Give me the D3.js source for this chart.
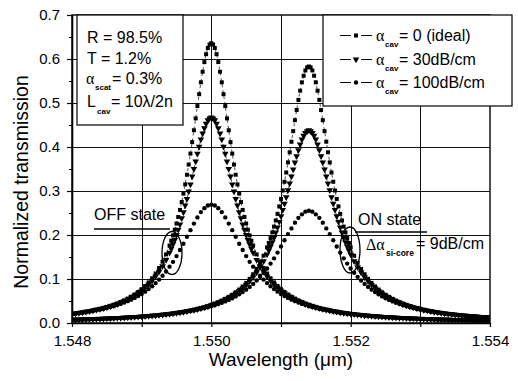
<!DOCTYPE html>
<html><head><meta charset="utf-8">
<script src="https://cdn.jsdelivr.net/npm/d3@7"></script>
<style>
body{margin:0;background:#fff}
svg{display:block;font-family:"Liberation Sans",Arial,sans-serif}
</style>
</head><body>
<svg id="c" width="518" height="381"></svg>
<script>
// ---------- data ----------
// resonance wavelengths (µm): OFF state and ON state
const offCentre = 1.5500;
const onCentre = 1.5514;
const sampleStep = 0.000025; // µm
// sample offsets (in sample steps) around each resonance
const offIdx = [...d3.range(-80, -25, 2), ...d3.range(-24, 25), ...d3.range(26, 161, 2)];
const onIdx = [...d3.range(-136, -25, 2), ...d3.range(-24, 25), ...d3.range(26, 105, 2)];
const offIdxCoarse = d3.range(-80, 161, 2);
const onIdxCoarse = d3.range(-136, 105, 2);
const wlOff = offIdx.map(j => offCentre + j * sampleStep);
const wlOn = onIdx.map(j => onCentre + j * sampleStep);
const wlOffCoarse = offIdxCoarse.map(j => offCentre + j * sampleStep);
const wlOnCoarse = onIdxCoarse.map(j => onCentre + j * sampleStep);

const xTicks = [1.548, 1.549, 1.550, 1.551, 1.552, 1.553, 1.554];
const xLabels = [1.548, 1.550, 1.552, 1.554];
const yTicks = [0.0, 0.1, 0.2, 0.3, 0.4, 0.5, 0.6, 0.7];
const yMinor = [0.05, 0.15, 0.25, 0.35, 0.45, 0.55, 0.65];

// alpha_cav = 0 (ideal)
const tOffIdeal = [0.0211,0.0222,0.0233,0.0246,0.0259,0.0273,0.0289,0.0306,0.0324,0.0344,0.0366,0.0391,0.0417,0.0446,0.0479,0.0515,0.0555,0.0599,0.0649,0.0706,0.0769,0.0841,0.0923,0.1017,0.1125,0.125,0.1394,0.156,
0.176,0.187,0.199,0.212,0.226,0.241,0.257,0.275,0.294,0.315,0.337,0.360,0.385,0.411,0.438,0.465,0.493,0.520,0.547,0.571,0.593,0.611,0.625,0.633,
0.636,
0.633,0.625,0.611,0.593,0.571,0.547,0.520,0.493,0.465,0.438,0.411,0.385,0.360,0.337,0.315,0.294,0.275,0.257,0.241,0.226,0.212,0.199,0.187,0.176,
0.156,0.1394,0.125,0.1125,0.1017,0.0923,0.0841,0.0769,0.0706,0.0649,0.0599,0.0555,0.0515,0.0479,0.0446,0.0417,0.0391,0.0366,0.0344,0.0324,0.0306,0.0289,0.0273,0.0259,0.0246,0.0233,0.0222,0.0211,
0.0202,0.0192,0.0184,0.0176,0.0168,0.0161,0.0155,0.0148,0.0143,0.0137,0.0132,0.0127,0.0122,0.0118,0.0114,0.0110,0.0106,0.0102,0.0099,0.0096,0.0093,0.0090,0.0087,0.0084,0.0082,0.0079,0.0077,0.0075,0.0073,0.0071,0.0069,0.0067,0.0065,0.0063,0.0062,0.0060,0.0058,0.0057,0.0056,0.0054];
const tOnIdeal = [0.0075,0.0077,0.0079,0.0082,0.0084,0.0087,0.0090,0.0093,0.0096,0.0099,0.0102,0.0106,0.0110,0.0113,0.0118,0.0122,0.0127,0.0132,0.0137,0.0142,0.0148,0.0154,0.0161,0.0168,0.0175,0.0183,0.0192,0.0201,0.0211,0.0221,0.0233,0.0245,0.0258,0.0272,0.0288,0.0305,0.0323,0.0343,0.0365,0.0388,0.0415,0.0444,0.0476,0.0511,0.0550,0.0594,0.0643,0.0699,0.0761,0.0831,0.0911,0.1003,0.1108,0.1228,0.1367,0.153,
0.172,0.182,0.193,0.206,0.219,0.233,0.248,0.265,0.282,0.301,0.321,0.342,0.365,0.388,0.412,0.436,0.461,0.484,0.507,0.528,0.547,0.562,0.574,0.581,
0.583,
0.581,0.574,0.562,0.547,0.528,0.507,0.484,0.461,0.436,0.412,0.388,0.365,0.342,0.321,0.301,0.282,0.265,0.248,0.233,0.219,0.206,0.193,0.182,0.172,
0.153,0.1367,0.1228,0.1108,0.1003,0.0911,0.0831,0.0761,0.0699,0.0643,0.0594,0.0550,0.0511,0.0476,0.0444,0.0415,0.0388,0.0365,0.0343,0.0323,0.0305,0.0288,0.0272,0.0258,0.0245,0.0233,0.0221,0.0211,0.0201,0.0192,0.0183,0.0175,0.0168,0.0161,0.0154,0.0148,0.0142,0.0137,0.0132,0.0127];

// alpha_cav = 30 dB/cm
const tOff30 = [0.0209,0.0219,0.0230,0.0242,0.0255,0.0269,0.0284,0.0301,0.0318,0.0338,0.0359,0.0382,0.0407,0.0435,0.0466,0.0500,0.0538,0.0579,0.0626,0.0678,0.0737,0.0803,0.0877,0.0962,0.1057,0.1167,0.1292,0.1434,
0.160,0.169,0.179,0.189,0.200,0.212,0.224,0.238,0.252,0.267,0.282,0.299,0.315,0.333,0.350,0.367,0.385,0.401,0.417,0.431,0.443,0.453,0.461,0.465,
0.467,
0.465,0.461,0.453,0.443,0.431,0.417,0.401,0.385,0.367,0.350,0.333,0.315,0.299,0.282,0.267,0.252,0.238,0.224,0.212,0.200,0.189,0.179,0.169,0.160,
0.1434,0.1292,0.1167,0.1057,0.0962,0.0877,0.0803,0.0737,0.0678,0.0626,0.0579,0.0538,0.0500,0.0466,0.0435,0.0407,0.0382,0.0359,0.0338,0.0318,0.0301,0.0284,0.0269,0.0255,0.0242,0.0230,0.0219,0.0209,
0.0199,0.0190,0.0182,0.0174,0.0167,0.0160,0.0153,0.0147,0.0141,0.0136,0.0131,0.0126,0.0121,0.0117,0.0113,0.0109,0.0105,0.0102,0.0098,0.0095,0.0092,0.0089,0.0087,0.0084,0.0081,0.0079,0.0077,0.0074,0.0072,0.0070,0.0068,0.0067,0.0065,0.0063,0.0061,0.0060,0.0058,0.0057,0.0055,0.0054];
const tOn30 = [0.0074,0.0077,0.0079,0.0081,0.0084,0.0086,0.0089,0.0092,0.0095,0.0098,0.0102,0.0105,0.0109,0.0113,0.0117,0.0121,0.0126,0.0131,0.0136,0.0141,0.0147,0.0153,0.0159,0.0166,0.0174,0.0181,0.0190,0.0199,0.0208,0.0219,0.0230,0.0242,0.0254,0.0268,0.0283,0.0299,0.0317,0.0336,0.0357,0.0380,0.0405,0.0433,0.0463,0.0496,0.0534,0.0575,0.0621,0.0672,0.0729,0.0794,0.0866,0.0949,0.1042,0.1148,0.1268,0.1406,
0.156,0.165,0.174,0.184,0.194,0.206,0.217,0.230,0.243,0.257,0.271,0.286,0.302,0.317,0.333,0.349,0.365,0.379,0.393,0.406,0.417,0.426,0.432,0.436,
0.438,
0.436,0.432,0.426,0.417,0.406,0.393,0.379,0.365,0.349,0.333,0.317,0.302,0.286,0.271,0.257,0.243,0.230,0.217,0.206,0.194,0.184,0.174,0.165,0.156,
0.1406,0.1268,0.1148,0.1042,0.0949,0.0866,0.0794,0.0729,0.0672,0.0621,0.0575,0.0534,0.0496,0.0463,0.0433,0.0405,0.0380,0.0357,0.0336,0.0317,0.0299,0.0283,0.0268,0.0254,0.0242,0.0230,0.0219,0.0208,0.0199,0.0190,0.0181,0.0174,0.0166,0.0159,0.0153,0.0147,0.0141,0.0136,0.0131,0.0126];

// alpha_cav = 100 dB/cm (coarser sampling, as in the picture)
const tOff100 = [0.0202,0.0212,0.0222,0.0233,0.0245,0.0258,0.0272,0.0287,0.0303,0.0321,0.0340,0.0360,0.0383,0.0407,0.0434,0.0464,0.0496,0.0531,0.0570,0.0613,0.0660,0.0713,0.0771,0.0835,0.0907,0.0986,0.1074,0.1171,
0.128,0.139,0.152,0.166,0.180,0.196,0.211,0.226,0.240,0.252,0.261,0.267,
0.269,
0.267,0.261,0.252,0.240,0.226,0.211,0.196,0.180,0.166,0.152,0.139,0.128,
0.1171,0.1074,0.0986,0.0907,0.0835,0.0771,0.0713,0.0660,0.0613,0.0570,0.0531,0.0496,0.0464,0.0434,0.0407,0.0383,0.0360,0.0340,0.0321,0.0303,0.0287,0.0272,0.0258,0.0245,0.0233,0.0222,0.0212,0.0202,
0.0193,0.0185,0.0177,0.0169,0.0162,0.0156,0.0150,0.0144,0.0138,0.0133,0.0128,0.0124,0.0119,0.0115,0.0111,0.0107,0.0104,0.0100,0.0097,0.0094,0.0091,0.0088,0.0085,0.0083,0.0080,0.0078,0.0076,0.0074,0.0072,0.0070,0.0068,0.0066,0.0064,0.0062,0.0061,0.0059,0.0058,0.0056,0.0055,0.0054];
const tOn100 = [0.0074,0.0076,0.0078,0.0080,0.0083,0.0085,0.0088,0.0091,0.0094,0.0097,0.0100,0.0103,0.0107,0.0111,0.0115,0.0119,0.0123,0.0128,0.0133,0.0138,0.0143,0.0149,0.0155,0.0162,0.0169,0.0176,0.0184,0.0192,0.0201,0.0211,0.0221,0.0232,0.0244,0.0257,0.0271,0.0285,0.0301,0.0319,0.0337,0.0358,0.0380,0.0404,0.0430,0.0459,0.0491,0.0525,0.0563,0.0605,0.0651,0.0702,0.0758,0.0821,0.0889,0.0966,0.1049,0.1142,
0.124,0.135,0.147,0.160,0.174,0.188,0.202,0.215,0.228,0.239,0.247,0.253,
0.255,
0.253,0.247,0.239,0.228,0.215,0.202,0.188,0.174,0.160,0.147,0.135,0.124,
0.1142,0.1049,0.0966,0.0889,0.0821,0.0758,0.0702,0.0651,0.0605,0.0563,0.0525,0.0491,0.0459,0.0430,0.0404,0.0380,0.0358,0.0337,0.0319,0.0301,0.0285,0.0271,0.0257,0.0244,0.0232,0.0221,0.0211,0.0201,0.0192,0.0184,0.0176,0.0169,0.0162,0.0155,0.0149,0.0143,0.0138,0.0133,0.0128,0.0123];

const seriesNames = ["0 (ideal)", "30dB/cm", "100dB/cm"];

// ---------- drawing ----------
const svg = d3.select("#c");
const L = 72, R = 490, T = 15, B = 323;
const x = d3.scaleLinear().domain([1.548, 1.554]).range([L, R]);
const y = d3.scaleLinear().domain([0, 0.7]).range([B, T]);

svg.append("rect").attr("width", 518).attr("height", 381).attr("fill", "#fff");

// grid
const grid = svg.append("g").attr("stroke", "#111").attr("stroke-width", 1);
grid.selectAll(".gx").data(xTicks.slice(1, -1)).join("line")
  .attr("x1", d => Math.round(x(d)) + 0.5).attr("x2", d => Math.round(x(d)) + 0.5)
  .attr("y1", T).attr("y2", B);
grid.selectAll(".gy").data(yTicks.slice(1, -1)).join("line")
  .attr("y1", d => Math.round(y(d)) + 0.5).attr("y2", d => Math.round(y(d)) + 0.5)
  .attr("x1", L).attr("x2", R);

// axes
const fmtX = d3.format(".3f");
const xAxis = svg.append("g").attr("transform", `translate(0,${B})`)
  .call(d3.axisBottom(x).tickValues(xTicks).tickSize(4).tickSizeOuter(0).tickPadding(8)
    .tickFormat(d => xLabels.some(v => Math.abs(v - d) < 1e-9) ? fmtX(d) : ""));
const yAxis = svg.append("g").attr("transform", `translate(${L},0)`)
  .call(d3.axisLeft(y).tickValues(yTicks).tickSize(5).tickSizeOuter(0).tickPadding(7).tickFormat(d3.format(".1f")));
svg.append("g").attr("transform", `translate(${L},0)`)
  .call(d3.axisLeft(y).tickValues(yMinor).tickSize(3).tickFormat(""))
  .call(g => g.select(".domain").remove());
[xAxis, yAxis].forEach(g => {
  g.attr("font-family", "'Liberation Sans', Arial, sans-serif").attr("font-size", 15);
  g.selectAll("text").attr("fill", "#000");
  g.selectAll("line").attr("stroke", "#000").attr("stroke-width", 1.2);
  g.select(".domain").attr("stroke", "#000").attr("stroke-width", 1.6);
});

// frame
svg.append("rect").attr("x", L).attr("y", T).attr("width", R - L).attr("height", B - T)
  .attr("fill", "none").attr("stroke", "#000").attr("stroke-width", 1.4);

// curves
svg.append("clipPath").attr("id", "clip").append("rect")
  .attr("x", L).attr("y", T - 3).attr("width", R - L).attr("height", B - T + 3);

const symbols = [
  d3.symbol().type(d3.symbolSquare).size(16),
  d3.symbol().type(d3.symbolTriangle).size(19),
  d3.symbol().type(d3.symbolCircle).size(15)
];
const symRot = [0, 180, 0];
const curves = [
  [[wlOff, tOffIdeal], [wlOn, tOnIdeal]],
  [[wlOff, tOff30], [wlOn, tOn30]],
  [[wlOffCoarse, tOff100], [wlOnCoarse, tOn100]]
];
const line = d3.line().x(d => x(d[0])).y(d => y(d[1]));
const plot = svg.append("g").attr("clip-path", "url(#clip)");
curves.forEach((pair, si) => {
  pair.forEach(([wl, tv]) => {
    const pts = d3.zip(wl, tv).filter(p => p[1] !== undefined);
    if (si < 2) {
      plot.append("path").datum(pts).attr("d", line)
        .attr("fill", "none").attr("stroke", "#000").attr("stroke-width", 0.7)
        .attr("stroke-dasharray", "3,3");
    }
    plot.append("g").selectAll("path").data(pts).join("path")
      .attr("d", symbols[si])
      .attr("transform", d => `translate(${x(d[0])},${y(d[1])}) rotate(${symRot[si]})`)
      .attr("fill", "#000");
  });
});

// parameter box
const pb = svg.append("g");
pb.append("rect").attr("x", 77).attr("y", T).attr("width", 106).attr("height", 110)
  .attr("fill", "#fff").attr("stroke", "#000").attr("stroke-width", 1.2);
pb.append("text").attr("x", 87).attr("y", 43).attr("font-size", 16).text("R = 98.5%");
pb.append("text").attr("x", 87).attr("y", 64).attr("font-size", 16).text("T = 1.2%");
pb.append("text").attr("x", 86).attr("y", 84).attr("font-size", 16)
  .attr("font-family", "'Liberation Serif', serif").text("α");
pb.append("text").attr("x", 95).attr("y", 90).attr("font-size", 8).attr("font-weight", "bold").text("scat");
pb.append("text").attr("x", 112).attr("y", 84).attr("font-size", 16).text("= 0.3%");
pb.append("text").attr("x", 87).attr("y", 107).attr("font-size", 16).text("L");
pb.append("text").attr("x", 97).attr("y", 114).attr("font-size", 8).attr("font-weight", "bold").text("cav");
pb.append("text").attr("x", 111).attr("y", 107).attr("font-size", 16).text("= 10λ/2n");

// legend
const lg = svg.append("g");
lg.append("rect").attr("x", 323).attr("y", T).attr("width", 189).attr("height", 91)
  .attr("fill", "#fff").attr("stroke", "#000").attr("stroke-width", 1.2);
const rowY = [41, 65, 88];
seriesNames.forEach((name, i) => {
  const cy = rowY[i] - 5.5;
  lg.append("line").attr("x1", 340).attr("x2", 372).attr("y1", cy).attr("y2", cy)
    .attr("stroke", "#000").attr("stroke-width", 1).attr("stroke-dasharray", "11,10");
  lg.append("path").attr("d", symbols[i])
    .attr("transform", `translate(356,${cy}) rotate(${symRot[i]})`).attr("fill", "#000");
  lg.append("text").attr("x", 376).attr("y", rowY[i]).attr("font-size", 16)
    .attr("font-family", "'Liberation Serif', serif").text("α");
  lg.append("text").attr("x", 385).attr("y", rowY[i] + 6).attr("font-size", 8)
    .attr("font-weight", "bold").text("cav");
  lg.append("text").attr("x", 399).attr("y", rowY[i]).attr("font-size", 16).text("= " + name);
});

// annotations
const an = svg.append("g").attr("fill", "none").attr("stroke", "#000").attr("stroke-width", 1.3);
an.append("line").attr("x1", 94).attr("x2", 170).attr("y1", 229).attr("y2", 229);
an.append("ellipse").attr("cx", 172).attr("cy", 253).attr("rx", 10).attr("ry", 21.5);
an.append("line").attr("x1", 355).attr("x2", 427).attr("y1", 232).attr("y2", 232);
an.append("ellipse").attr("cx", 350).attr("cy", 250).attr("rx", 10).attr("ry", 23);
svg.append("text").attr("x", 94).attr("y", 220).attr("font-size", 16).text("OFF state");
svg.append("text").attr("x", 358).attr("y", 225).attr("font-size", 16).text("ON state");
svg.append("text").attr("x", 366).attr("y", 250).attr("font-size", 16)
  .attr("font-family", "'Liberation Serif', serif").text("Δα");
svg.append("text").attr("x", 386).attr("y", 256).attr("font-size", 8.5)
  .attr("font-weight", "bold").text("si-core");
svg.append("text").attr("x", 416).attr("y", 249).attr("font-size", 16).text("= 9dB/cm");

// axis titles
svg.append("text").attr("x", 281).attr("y", 366).attr("text-anchor", "middle")
  .attr("font-size", 19).text("Wavelength (μm)");
svg.append("text").attr("transform", "translate(28,182) rotate(-90)").attr("text-anchor", "middle")
  .attr("font-size", 19.5).text("Normalized transmission");
</script>
</body></html>
